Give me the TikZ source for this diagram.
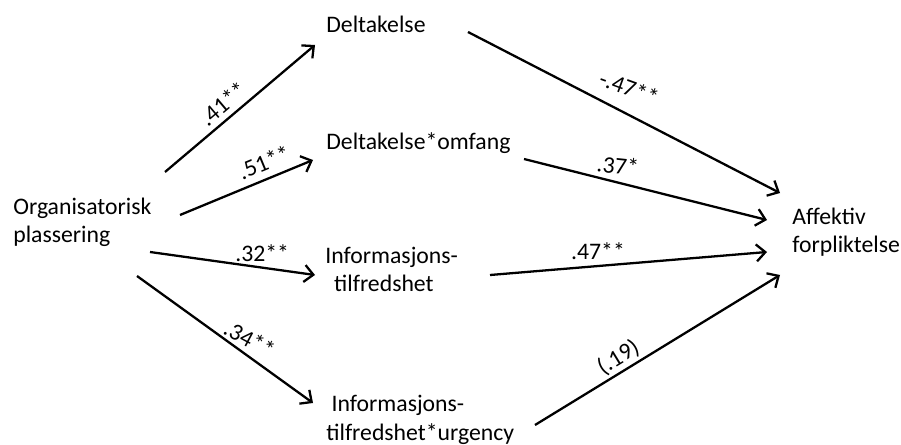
\documentclass[tikz,border=0pt]{standalone}
\usepackage{fontspec}
\setmainfont{Carlito}
\usetikzlibrary{arrows.meta}
\begin{document}
\begin{tikzpicture}[x=0.02cm, y=-0.02cm,
		var/.style={anchor=base west, inner sep=0pt, align=left,
			font=\fontsize{13.5}{16.2}\selectfont},
		effect/.style={line width=1.3pt, -{Straight Barb[length=1.8mm,width=3.4mm]}},
		coef/.style={font=\fontsize{13.5}{15}\selectfont, inner sep=3pt}]
		\useasboundingbox (0,0) rectangle (901,445);
		
		\node [var] (org) at (13,243) {Organisatorisk\\plassering};
		\node [var] (delt) at (326,33) {Deltakelse};
		\node [var] (omf) at (326,150) {Deltakelse*omfang};
		\node [var] (info) at (325,292) {Informasjons-\\\hspace{5pt}tilfredshet};
		\node [var] (urg) at (326,440) {\hspace{3pt}Informasjons-\\tilfredshet*urgency};
		\node [var] (aff) at (792,253) {Affektiv\\forpliktelse};
		
		\coordinate (o1) at (165,172);  \coordinate (d1) at (315,45);
		\coordinate (o2) at (180,215);  \coordinate (m1) at (313,160);
		\coordinate (o3) at (150,252);  \coordinate (i1) at (315,275);
		\coordinate (o4) at (137,276);  \coordinate (u1) at (313,403);
		\coordinate (d2) at (468,32);   \coordinate (a1) at (780,193);
		\coordinate (m2) at (524,159);  \coordinate (a2) at (767,220);
		\coordinate (i2) at (490,275);  \coordinate (a3) at (767,252);
		\coordinate (u2) at (535,425);  \coordinate (a4) at (780,275);
		
		\draw [effect] (o1) -- node [coef, sloped, above, pos=0.45] {.41**} (d1);
		\draw [effect] (o2) -- node [coef, sloped, above=1pt, pos=0.68] {.51**} (m1);
		\draw [effect] (o3) -- node [coef, above, pos=0.68] {.32**} (i1);
		\draw [effect] (o4) -- node [coef, above, pos=0.6, rotate=-28] {.34**} (u1);
		\draw [effect] (d2) -- node [coef, above=6pt, pos=0.5, rotate=-20] {-.47**} (a1);
		\draw [effect] (m2) -- node [coef, above=1pt, pos=0.38, rotate=-6] {.37*} (a2);
		\draw [effect] (i2) -- node [coef, above, pos=0.39] {.47**} (a3);
		\draw [effect] (u2) -- node [coef, sloped, above=-1.5pt, pos=0.37] {(.19)} (a4); %no stars
	\end{tikzpicture}
\end{document}
